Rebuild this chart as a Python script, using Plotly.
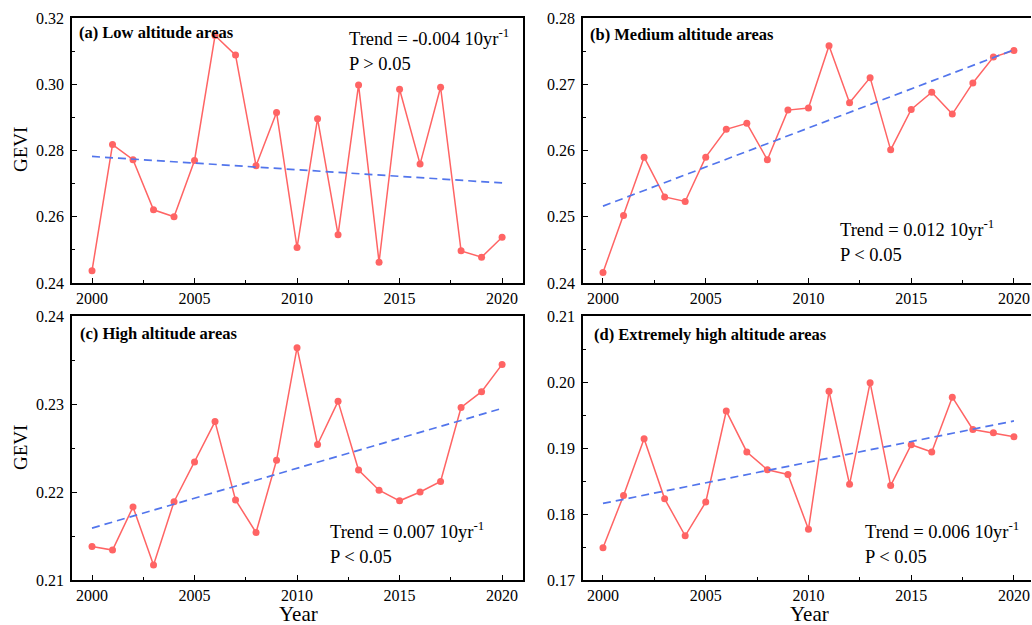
import plotly.graph_objects as go

years = list(range(2000, 2021))

low_vals = [0.2437, 0.2818, 0.2772, 0.2621, 0.2600, 0.2770, 0.3147, 0.3088, 0.2754, 0.2915,
            0.2507, 0.2896, 0.2546, 0.2998, 0.2463, 0.2985, 0.2759, 0.2991, 0.2497, 0.2478, 0.2538]
med_vals = [0.2416, 0.2502, 0.2590, 0.2530, 0.2523, 0.2590, 0.2632, 0.2641, 0.2586, 0.2661,
            0.2664, 0.2758, 0.2672, 0.2710, 0.2601, 0.2662, 0.2688, 0.2655, 0.2702, 0.2741, 0.2751]
high_vals = [0.2138, 0.2134, 0.2183, 0.2117, 0.2189, 0.2234, 0.2280, 0.2191, 0.2154, 0.2236,
             0.2364, 0.2254, 0.2303, 0.2225, 0.2202, 0.2190, 0.2200, 0.2212, 0.2296, 0.2314, 0.2345]
ext_vals = [0.1749, 0.1828, 0.1914, 0.1823, 0.1767, 0.1818, 0.1956, 0.1894, 0.1867, 0.1860,
            0.1777, 0.1986, 0.1845, 0.1999, 0.1843, 0.1905, 0.1894, 0.1977, 0.1928, 0.1923, 0.1917]

trend_years = [2000, 2020]
low_trend = [0.2782, 0.2702]
med_trend = [0.2516, 0.2752]
high_trend = [0.2159, 0.2295]
ext_trend = [0.1816, 0.1941]

panel_titles = ["(a) Low altitude areas", "(b) Medium altitude areas",
                "(c) High altitude areas", "(d) Extremely high altitude areas"]
trend_texts = ["Trend = -0.004 10yr<sup>-1</sup>", "Trend = 0.012 10yr<sup>-1</sup>",
               "Trend = 0.007 10yr<sup>-1</sup>", "Trend = 0.006 10yr<sup>-1</sup>"]
p_texts = ["P &gt; 0.05", "P &lt; 0.05", "P &lt; 0.05", "P &lt; 0.05"]
y_ranges = [[0.24, 0.32], [0.24, 0.28], [0.21, 0.24], [0.17, 0.21]]
y_dticks = [0.02, 0.01, 0.01, 0.01]
x_tick_vals = [2000, 2005, 2010, 2015, 2020]

W, H = 1032, 625
FONT = "Liberation Serif"
RED = "#FF6464"
BLUE = "#5275EC"

series = [low_vals, med_vals, high_vals, ext_vals]
trends = [low_trend, med_trend, high_trend, ext_trend]

# pixel boxes: (left, right, top, bottom)
boxes = [(72, 523, 18, 283), (583, 1031, 18, 283),
         (72, 523, 316, 580), (583, 1031, 316, 580)]
x_ranges = [[1999.024, 2021.02], [1999.027, 2020.83],
            [1999.024, 2021.02], [1999.027, 2020.83]]
title_pos = [(77, 33), (588, 34), (78, 333), (592, 334)]
trend_pos = [(347, 37), (838, 228), (328, 530), (863, 530)]
p_pos = [(347, 64), (838, 255), (328, 557), (863, 557)]

fig = go.Figure()
annotations = []
for i in range(4):
    sfx = "" if i == 0 else str(i + 1)
    xa, ya = "x" + sfx, "y" + sfx
    fig.add_trace(go.Scatter(x=years, y=series[i], mode="lines+markers",
                             line=dict(color=RED, width=1.5),
                             marker=dict(color=RED, size=7),
                             xaxis=xa, yaxis=ya, showlegend=False))
    fig.add_trace(go.Scatter(x=trend_years, y=trends[i], mode="lines",
                             line=dict(color=BLUE, width=1.7, dash="8px,5px"),
                             xaxis=xa, yaxis=ya, showlegend=False))
    l, r, t, b = boxes[i]
    right_col = i in (1, 3)
    fig.layout["xaxis" + sfx] = dict(
        domain=[l / W, r / W], range=x_ranges[i], anchor=ya, automargin=False,
        tickvals=x_tick_vals, ticks="inside", ticklen=5, tickwidth=1.3,
        tickcolor="black", showline=True, linewidth=1.5, linecolor="black",
        mirror=True, showgrid=False, zeroline=False,
        tickfont=dict(family=FONT, size=16, color="black"),
        minor=dict(tickvals=[2002.5, 2007.5, 2012.5, 2017.5], ticks="inside",
                   ticklen=3, tickwidth=1.3, tickcolor="black", showgrid=False),
    )
    ymin, ymax = y_ranges[i]
    d = y_dticks[i]
    fig.layout["yaxis" + sfx] = dict(
        domain=[1 - b / H, 1 - t / H], range=[ymin, ymax], anchor=xa, automargin=False,
        tick0=ymin, dtick=d, tickformat=".2f", ticks="inside", ticklen=5,
        tickwidth=1.3, tickcolor="black", showline=True, linewidth=1.5,
        linecolor="black", mirror=not right_col, showgrid=False, zeroline=False,
        ticklabelstandoff=3,
        tickfont=dict(family=FONT, size=16, color="black"),
        minor=dict(tick0=ymin, dtick=d / 2, ticks="inside", ticklen=3,
                   tickwidth=1.3, tickcolor="black", showgrid=False),
    )
    annotations.append(dict(text="<b>" + panel_titles[i] + "</b>", xref="paper", yref="paper",
                            x=title_pos[i][0] / W, y=1 - title_pos[i][1] / H,
                            xanchor="left", yanchor="middle", showarrow=False,
                            font=dict(family=FONT, size=16.5, color="black")))
    annotations.append(dict(text=trend_texts[i], xref="paper", yref="paper",
                            x=trend_pos[i][0] / W, y=1 - trend_pos[i][1] / H,
                            xanchor="left", yanchor="middle", showarrow=False,
                            font=dict(family=FONT, size=18.5, color="black")))
    annotations.append(dict(text=p_texts[i], xref="paper", yref="paper",
                            x=p_pos[i][0] / W, y=1 - p_pos[i][1] / H,
                            xanchor="left", yanchor="middle", showarrow=False,
                            font=dict(family=FONT, size=18.5, color="black")))

for yc in (150, 448):
    annotations.append(dict(text="GEVI", xref="paper", yref="paper",
                            x=20 / W, y=1 - yc / H, xanchor="center", yanchor="middle",
                            textangle=-90, showarrow=False,
                            font=dict(family=FONT, size=19, color="black")))
for xc in (298, 809):
    annotations.append(dict(text="Year", xref="paper", yref="paper",
                            x=xc / W, y=1 - 614 / H, xanchor="center", yanchor="middle",
                            showarrow=False,
                            font=dict(family=FONT, size=21, color="black")))

fig.update_layout(width=W, height=H, margin=dict(l=0, r=0, t=0, b=0, autoexpand=False),
                  plot_bgcolor="white", paper_bgcolor="white",
                  annotations=annotations)

fig.write_html("out.html", config={"displayModeBar": False},
               post_script="document.body.style.margin='0';document.body.style.overflow='hidden';")
